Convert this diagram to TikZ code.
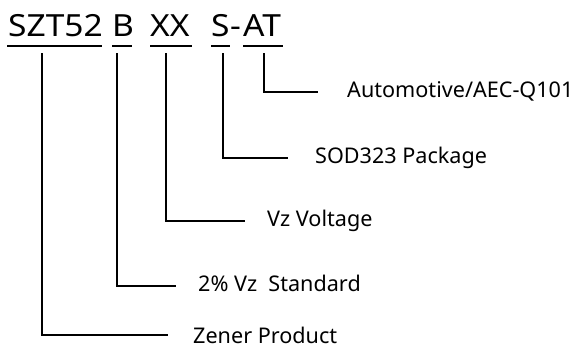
\documentclass[tikz,border=0pt]{standalone}
\usepackage{fontspec}
\setmainfont{Noto Sans}
\newfontfamily\titlefont[FakeStretch=1.1]{Noto Sans}
\begin{document}
\begin{tikzpicture}[x=1pt,y=-1pt,
  title/.style={anchor=base west,inner sep=0pt,font=\titlefont\fontsize{30.5}{30.5}\selectfont},
  label/.style={anchor=base west,inner sep=0pt,font=\fontsize{21.6}{21.6}\selectfont},
  uline/.style={line width=1.8pt},
  leader/.style={line width=1.5pt}]
\useasboundingbox (0,0) rectangle (580,349);
% title parts
\node[title] (p1) at (8,36) {SZT52};
\node[title] (p2) at (112,36) {B};
\node[title] (p3) at (150,36) {XX};
\node[title] (p4) at (211,36) {S};
\node[title] (p5) at (p4.base east) {-};
\node[title] (p6) at (243,36) {AT};
% underlines
\draw[uline] (7,46) -- (102,46);
\draw[uline] (112,46) -- (132,46);
\draw[uline] (150,46) -- (192,46);
\draw[uline] (211,46) -- (230,46);
\draw[uline] (243,46) -- (283,46);
% labels
\node[label] (l6) at (347,97) {Automotive/AEC-Q101};
\node[label] (l4) at (315,163) {SOD323 Package};
\node[label] (l3) at (267,226) {Vz Voltage};
\node[label] (l2) at (198,291) {2\% Vz\ \ Standard};
\node[label] (l1) at (193,343) {Zener Product};
% leader corners
\coordinate (t6) at (264,53);
\coordinate (t4) at (223,53);
\coordinate (t3) at (166,53);
\coordinate (t2) at (117,53);
\coordinate (t1) at (42,53);
\draw[leader] (t6) |- (318,92);
\draw[leader] (t4) |- (288,158);
\draw[leader] (t3) |- (245,221);
\draw[leader] (t2) |- (176,286);
\draw[leader] (t1) |- (168,335);
\end{tikzpicture}
\end{document}
